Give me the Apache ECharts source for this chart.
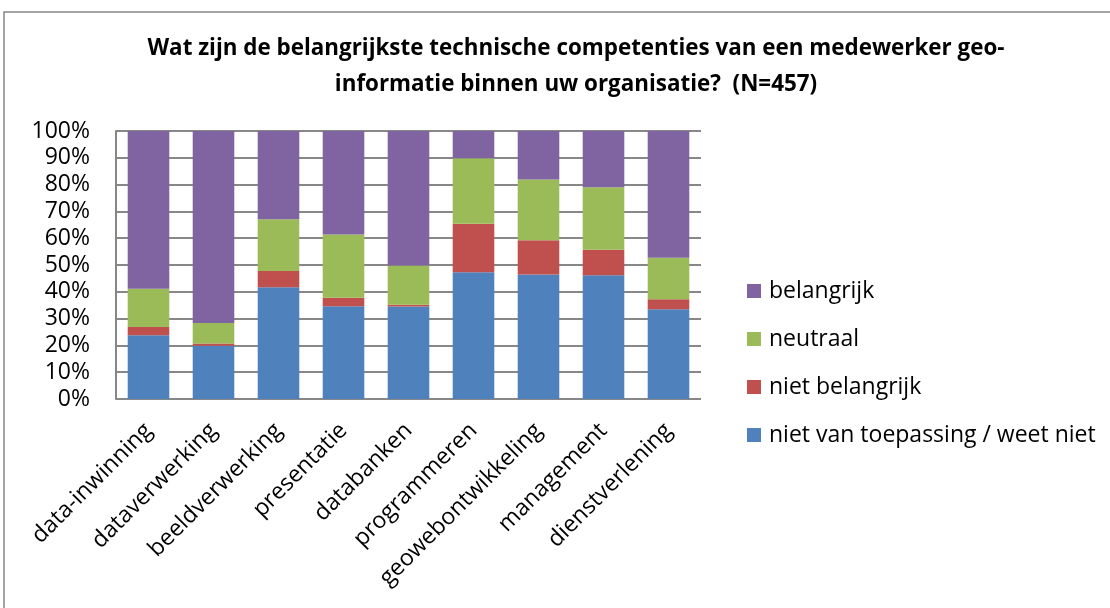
<!DOCTYPE html>
<html>
<head>
<meta charset="utf-8">
<script src="https://cdn.jsdelivr.net/npm/echarts@6/dist/echarts.min.js"></script>
<style>
html,body{margin:0;padding:0;background:#fff;}
#chart{width:1110px;height:608px;}
</style>
</head>
<body>
<div id="chart"></div>
<script>
var categories = ['data-inwinning','dataverwerking','beeldverwerking','presentatie','databanken','programmeren','geowebontwikkeling','management','dienstverlening'];
var nvt       = [23.8, 19.9, 41.7, 34.6, 34.5, 47.3, 46.5, 46.2, 33.5];
var nietBel   = [3.1, 0.8, 6.1, 3.2, 0.7, 18.1, 12.7, 9.5, 3.7];
var neutraal  = [14.2, 7.7, 19.3, 23.6, 14.6, 24.4, 22.7, 23.3, 15.5];
var belangrijk = [58.9, 71.6, 32.9, 38.6, 50.2, 10.2, 18.1, 21.0, 47.3];

var font = 'Open Sans';
var chart = echarts.init(document.getElementById('chart'));

function bar(name, data, color){
  return {name:name, type:'bar', stack:'all', barCategoryGap:'36%', data:data,
          itemStyle:{color:color}, emphasis:{disabled:true}};
}

chart.setOption({
  animation:false,
  graphic:[{type:'rect', shape:{x:4, y:12, width:1200, height:700},
            style:{fill:'none', stroke:'#878787', lineWidth:1.5}}],
  title:{
    text:'Wat zijn de belangrijkste technische competenties van een medewerker geo-\ninformatie binnen uw organisatie?  (N=457)',
    left:571, textAlign:'center', top:26,
    textStyle:{fontFamily:font, fontWeight:'bold', fontSize:22.4, lineHeight:36, color:'#000'}
  },
  grid:{left:116, right:409, top:131, bottom:209, containLabel:false},
  legend:{
    orient:'vertical', left:742, top:274,
    itemWidth:14, itemHeight:14, itemGap:24,
    icon:'rect',
    data:['belangrijk','neutraal','niet belangrijk','niet van toepassing / weet niet'],
    textStyle:{fontFamily:font, fontSize:23, color:'#000', lineHeight:24, padding:[0,0,0,3]}
  },
  xAxis:{
    type:'category', data:categories,
    axisLine:{show:false}, axisTick:{show:false},
    axisLabel:{rotate:45, fontFamily:font, fontSize:23, color:'#000', margin:28, interval:0}
  },
  yAxis:{
    type:'value', min:0, max:100, interval:10,
    axisLine:{show:true, lineStyle:{color:'#878787', width:2}},
    axisTick:{show:false},
    splitLine:{lineStyle:{color:'#878787', width:2}},
    axisLabel:{formatter:'{value}%', fontFamily:font, fontSize:23, color:'#000', margin:26}
  },
  series:[
    bar('niet van toepassing / weet niet', nvt, '#4F81BD'),
    bar('niet belangrijk', nietBel, '#C0504D'),
    bar('neutraal', neutraal, '#9BBB59'),
    bar('belangrijk', belangrijk, '#8064A2')
  ]
});
</script>
</body>
</html>
